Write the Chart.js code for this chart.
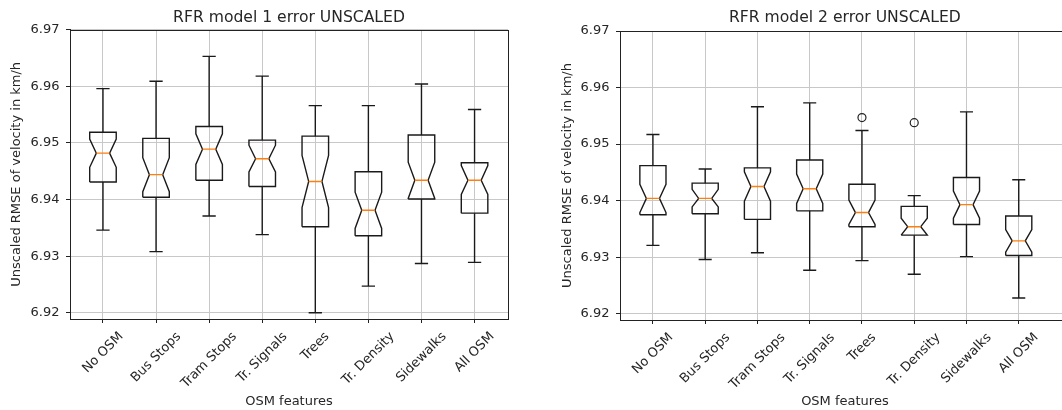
<!DOCTYPE html>
<html lang="en">
<head>
  <meta charset="UTF-8">
  <title>RFR model error UNSCALED</title>
  <script src="https://cdn.jsdelivr.net/npm/chart.js"></script>
  <style>
    html, body { margin: 0; padding: 0; background: #fff; overflow: hidden; }
    body { width: 1062px; height: 410px; position: relative; }
    .panel { position: absolute; top: 0; }
  </style>
</head>
<body>
  <canvas id="left" class="panel" width="530" height="410" style="left:0px"></canvas>
  <canvas id="right" class="panel" width="545" height="410" style="left:530px"></canvas>

  <script>
    const categories = ['No OSM', 'Bus Stops', 'Tram Stops', 'Tr. Signals', 'Trees', 'Tr. Density', 'Sidewalks', 'All OSM'];
    const yTicks = [6.92, 6.93, 6.94, 6.95, 6.96, 6.97];

    // model 1 (left)
    const m1Low     = [6.9346, 6.9308, 6.9371, 6.9338, 6.9200, 6.9247, 6.9287, 6.9289];
    const m1Q1      = [6.9431, 6.9404, 6.9434, 6.9423, 6.9352, 6.9336, 6.9401, 6.9376];
    const m1NotchLo = [6.9457, 6.9414, 6.9462, 6.9449, 6.9386, 6.9349, 6.9402, 6.9409];
    const m1Median  = [6.9482, 6.9444, 6.9489, 6.9472, 6.9432, 6.9381, 6.9434, 6.9434];
    const m1NotchHi = [6.9507, 6.9474, 6.9516, 6.9496, 6.9478, 6.9413, 6.9466, 6.9460];
    const m1Q3      = [6.9519, 6.9508, 6.9529, 6.9505, 6.9512, 6.9449, 6.9514, 6.9465];
    const m1High    = [6.9596, 6.9609, 6.9653, 6.9618, 6.9566, 6.9566, 6.9604, 6.9559];
    const m1Fliers  = [[], [], [], [], [], [], [], []];

    // model 2 (right)
    const m2Low     = [6.9321, 6.9296, 6.9308, 6.9277, 6.9294, 6.9270, 6.9301, 6.9228];
    const m2Q1      = [6.9375, 6.9377, 6.9367, 6.9382, 6.9354, 6.9339, 6.9358, 6.9303];
    const m2NotchLo = [6.9379, 6.9389, 6.9399, 6.9395, 6.9358, 6.9339, 6.9369, 6.9309];
    const m2Median  = [6.9404, 6.9404, 6.9425, 6.9421, 6.9379, 6.9354, 6.9393, 6.9329];
    const m2NotchHi = [6.9429, 6.9420, 6.9451, 6.9447, 6.9401, 6.9369, 6.9417, 6.9349];
    const m2Q3      = [6.9462, 6.9431, 6.9458, 6.9472, 6.9429, 6.9390, 6.9441, 6.9373];
    const m2High    = [6.9517, 6.9456, 6.9566, 6.9573, 6.9524, 6.9409, 6.9557, 6.9437];
    const m2Fliers  = [[], [], [], [], [6.9547], [6.9538], [], []];

    Chart.defaults.font.family = "'DejaVu Sans', sans-serif";
    Chart.defaults.color = '#262626';

    const BOX = 0.25, CAP = 0.125;
    const gap = { x: null, y: null };

    // polylines built from the arrays, separated by gaps
    function boxOutline(q1, nlo, med, nhi, q3) {
      const pts = [];
      q1.forEach((v, i) => {
        const x = i + 1;
        pts.push({x: x - BOX, y: q1[i]}, {x: x + BOX, y: q1[i]}, {x: x + BOX, y: nlo[i]},
                 {x: x + CAP, y: med[i]}, {x: x + BOX, y: nhi[i]}, {x: x + BOX, y: q3[i]},
                 {x: x - BOX, y: q3[i]}, {x: x - BOX, y: nhi[i]}, {x: x - CAP, y: med[i]},
                 {x: x - BOX, y: nlo[i]}, {x: x - BOX, y: q1[i]}, gap);
      });
      return pts;
    }
    function whiskers(low, q1, q3, high) {
      const pts = [];
      low.forEach((v, i) => {
        const x = i + 1;
        pts.push({x: x, y: q3[i]}, {x: x, y: high[i]}, gap,
                 {x: x - CAP, y: high[i]}, {x: x + CAP, y: high[i]}, gap,
                 {x: x, y: q1[i]}, {x: x, y: low[i]}, gap,
                 {x: x - CAP, y: low[i]}, {x: x + CAP, y: low[i]}, gap);
      });
      return pts;
    }
    function medians(med) {
      const pts = [];
      med.forEach((v, i) => pts.push({x: i + 1 - CAP, y: v}, {x: i + 1 + CAP, y: v}, gap));
      return pts;
    }
    function fliers(list) {
      const pts = [];
      list.forEach((vals, i) => vals.forEach(v => pts.push({x: i + 1, y: v})));
      return pts;
    }

    const frame = {
      id: 'frame',
      afterDatasetsDraw(chart) {
        const a = chart.chartArea, ctx = chart.ctx;
        ctx.save();
        ctx.strokeStyle = '#222';
        ctx.lineWidth = 1;
        ctx.strokeRect(Math.round(a.left) + 0.5, Math.round(a.top) + 0.5,
                       Math.round(a.right - a.left), Math.round(a.bottom - a.top));
        ctx.restore();
      }
    };

    // rotated x labels centred on their tick, like matplotlib
    const centerLabels = {
      id: 'centerLabels',
      beforeDraw(chart) {
        const sc = chart.scales.x;
        const items = sc.getLabelItems();
        const ctx = chart.ctx;
        ctx.save();
        items.forEach(it => {
          if (it._moved) return;
          ctx.font = it.font.string;
          const w = ctx.measureText(it.label).width;
          it.options.translation[0] += w * 0.3536;
          it._moved = true;
        });
        ctx.restore();
      }
    };

    function makeChart(id, s) {
      const line = (data, color) => ({
        data: data, showLine: true, borderColor: color, borderWidth: 1.4,
        pointRadius: 0, pointHoverRadius: 0, tension: 0, spanGaps: false, fill: false
      });
      return new Chart(document.getElementById(id), {
        type: 'scatter',
        data: {
          datasets: [
            line(medians(s.med), '#ff7f0e'),
            { data: fliers(s.fliers), pointRadius: 4, pointHoverRadius: 4, borderWidth: 1.2,
              borderColor: '#222', backgroundColor: 'rgba(0,0,0,0)' },
            line(boxOutline(s.q1, s.nlo, s.med, s.nhi, s.q3), '#1a1a1a'),
            line(whiskers(s.low, s.q1, s.q3, s.high), '#1a1a1a')
          ]
        },
        options: {
          responsive: false,
          animation: false,
          events: [],
          layout: { padding: { left: 0, right: s.padRight, top: 0, bottom: 0 } },
          plugins: {
            legend: { display: false },
            tooltip: { enabled: false },
            title: {
              display: true, text: s.title, fullSize: false, color: '#262626',
              font: { size: 15.6, weight: 'normal' },
              padding: s.titlePad
            }
          },
          scales: {
            x: {
              type: 'linear', min: s.xMin, max: s.xMax,
              afterBuildTicks: sc => { sc.ticks = categories.map((c, i) => ({ value: i + 1 })); },
              afterFit: sc => { sc.height = s.xHeight; },
              ticks: {
                callback: v => categories[v - 1],
                minRotation: 45, maxRotation: 45, autoSkip: false,
                padding: 6, font: { size: 13 }, color: '#262626'
              },
              grid: { color: '#c8c8c8', lineWidth: 1, tickColor: '#222', tickLength: 4, tickWidth: 1 },
              border: { color: '#222', width: 1 },
              title: { display: true, text: 'OSM features', font: { size: 13 }, color: '#262626',
                       padding: { top: 0, bottom: 0.2 } }
            },
            y: {
              min: 6.9189, max: 6.97,
              afterBuildTicks: sc => { sc.ticks = yTicks.map(v => ({ value: v })); },
              afterFit: sc => { sc.width = s.yWidth; },
              ticks: {
                callback: v => v.toFixed(2),
                padding: 6.5, font: { size: 13 }, color: '#262626'
              },
              grid: { color: '#c8c8c8', lineWidth: 1, tickColor: '#222', tickLength: 4, tickWidth: 1 },
              border: { color: '#222', width: 1 },
              title: { display: true, text: 'Unscaled RMSE of velocity in km/h', font: { size: 13 },
                       color: '#262626', padding: { top: s.yTitlePad, bottom: 0 } }
            }
          }
        },
        plugins: [frame, centerLabels]
      });
    }

    makeChart('left', {
      title: 'RFR model 1 error UNSCALED',
      low: m1Low, q1: m1Q1, nlo: m1NotchLo, med: m1Median, nhi: m1NotchHi, q3: m1Q3, high: m1High, fliers: m1Fliers,
      xMin: 0.379, xMax: 8.63, yWidth: 70, yTitlePad: 9.2, xHeight: 91, padRight: 22,
      titlePad: { top: 8.1, bottom: 2.9 }
    });
    makeChart('right', {
      title: 'RFR model 2 error UNSCALED',
      low: m2Low, q1: m2Q1, nlo: m2NotchLo, med: m2Median, nhi: m2NotchHi, q3: m2Q3, high: m2High, fliers: m2Fliers,
      xMin: 0.37, xMax: 8.977, yWidth: 90, yTitlePad: 30.2, xHeight: 90, padRight: 0,
      titlePad: { top: 8.6, bottom: 3.7 }
    });
  </script>
</body>
</html>
